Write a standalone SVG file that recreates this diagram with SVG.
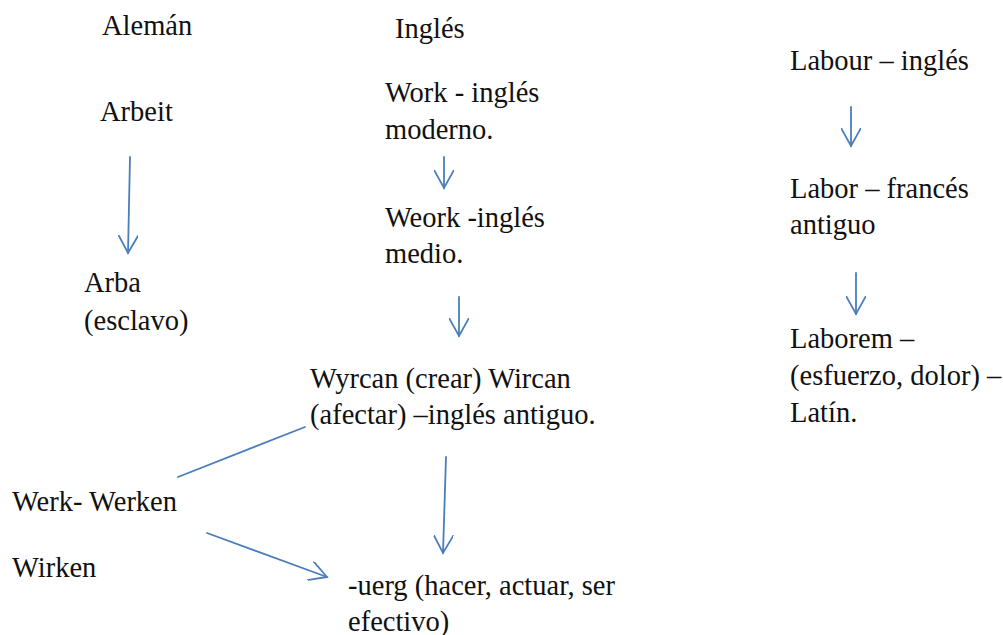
<svg xmlns="http://www.w3.org/2000/svg" width="1003" height="635" viewBox="0 0 1003 635">
<defs>
<style>
text{font-family:'Liberation Serif','Times New Roman',serif;font-size:28.5px;fill:#111;}
.c line,.c path{stroke:#4a7ebb;stroke-width:1.8;fill:none;stroke-linecap:round;stroke-linejoin:round;}
</style>
<marker id="ah" viewBox="0 0 20 20" refX="18" refY="10" markerWidth="20" markerHeight="20" markerUnits="userSpaceOnUse" orient="auto">
<path d="M0,0 L18,10 L0,20" fill="none" stroke="#4a7ebb" stroke-width="1.8"/>
</marker>
</defs>
<rect width="1003" height="635" fill="#fff"/>
<g id="aleman"><text x="102" y="35">Alemán</text></g>
<g id="ingles"><text x="395" y="38">Inglés</text></g>
<g id="labour"><text x="790" y="70">Labour – inglés</text></g>
<g id="arbeit"><text x="100" y="121">Arbeit</text></g>
<g id="work"><text x="385" y="102">Work - inglés</text><text x="385" y="139">moderno.</text></g>
<g id="weork"><text x="385" y="227">Weork -inglés</text><text x="385" y="263">medio.</text></g>
<g id="labor"><text x="790" y="198">Labor – francés</text><text x="790" y="234">antiguo</text></g>
<g id="laborem"><text x="790" y="348">Laborem –</text><text x="790" y="385">(esfuerzo, dolor) –</text><text x="790" y="422">Latín.</text></g>
<g id="arba"><text x="84" y="292">Arba</text><text x="84" y="330">(esclavo)</text></g>
<g id="wyrcan"><text x="310" y="388">Wyrcan (crear) Wircan</text><text x="310" y="424">(afectar) –inglés antiguo.</text></g>
<g id="werk"><text x="12" y="511">Werk- Werken</text></g>
<g id="wirken"><text x="12" y="577">Wirken</text></g>
<g id="uerg"><text x="348" y="595">-uerg (hacer, actuar, ser</text><text x="348" y="631">efectivo)</text></g>
<g id="connectors" class="c">
<line x1="130" y1="157" x2="128" y2="253" marker-end="url(#ah)"/>
<line x1="444" y1="157" x2="444" y2="188" marker-end="url(#ah)"/>
<line x1="459" y1="297" x2="459" y2="336" marker-end="url(#ah)"/>
<line x1="851" y1="107" x2="851" y2="146" marker-end="url(#ah)"/>
<line x1="856" y1="273" x2="856" y2="314" marker-end="url(#ah)"/>
<line x1="305" y1="427" x2="178" y2="477"/>
<line x1="207" y1="533" x2="327" y2="577" marker-end="url(#ah)"/>
<line x1="446" y1="457" x2="443" y2="553" marker-end="url(#ah)"/>
</g>
</svg>
